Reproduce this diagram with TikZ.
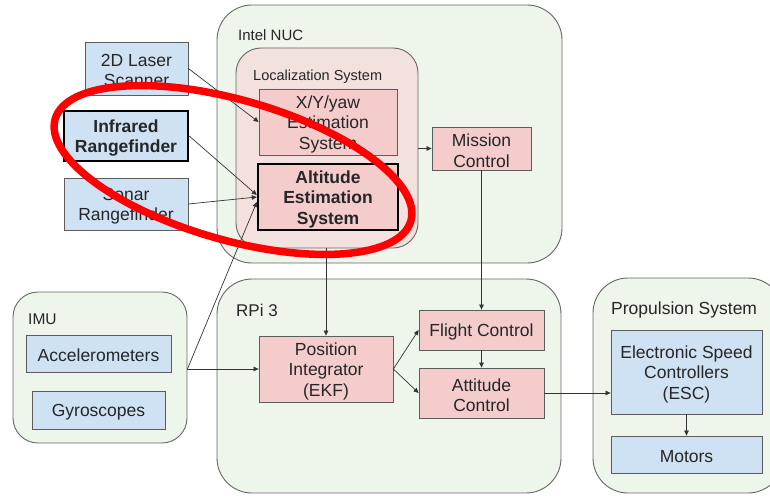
\documentclass[tikz,border=0pt]{standalone}
\usepackage{fontspec}
\setmainfont{Liberation Sans}
\usetikzlibrary{arrows.meta}

\definecolor{grpgreen}{HTML}{EEF5EA}
\definecolor{grploc}{HTML}{F2E1DD}
\definecolor{boxpink}{HTML}{F4CCCC}
\definecolor{boxblue}{HTML}{CFE2F3}
\definecolor{edgegray}{HTML}{666666}
\definecolor{linegray}{HTML}{333333}
\definecolor{hlred}{HTML}{FF0000}

\tikzset{
  group/.style={draw=edgegray, line width=0.9pt, fill=grpgreen, inner sep=0pt},
  grouplabel/.style={anchor=base west, inner sep=0pt, text=black!85},
  utext/.style={inner sep=0pt, align=center, text=black!85, yshift=-2pt,
    font=\fontsize{17.5}{20.5}\selectfont},
  btext/.style={utext, font=\bfseries\fontsize{17.5}{20.5}\selectfont},
  unit/.style={draw=edgegray!90!black, line width=0.8pt, inner sep=0pt},
  pinkunit/.style={unit, fill=boxpink, label={[utext]center:{#1}}},
  blueunit/.style={unit, fill=boxblue, label={[utext]center:{#1}}},
  pinkstrong/.style={unit, fill=boxpink, draw=black, line width=2.4pt, label={[btext]center:{#1}}},
  bluestrong/.style={unit, fill=boxblue, draw=black, line width=2.4pt, label={[btext]center:{#1}}},
  arr/.style={draw=linegray, line width=0.7pt, -{Triangle[length=5pt,width=4.5pt]}},
  hl/.style={draw=hlred, line width=7.5pt},
}

\begin{document}
\begin{tikzpicture}[x=1pt, y=-1pt]
\useasboundingbox (0,0) rectangle (770,495);

% processing groups
\node[group, rounded corners=35pt, minimum width=345pt, minimum height=258pt] (nuc) at (389.5,134) {};
\node[group, fill=grploc, rounded corners=25pt, minimum width=182pt, minimum height=200pt] (loc) at (327,148) {};
\node[group, rounded corners=35pt, minimum width=344pt, minimum height=214pt] (rpi) at (389,386) {};
\node[group, rounded corners=25pt, minimum width=174pt, minimum height=151pt] (imu) at (100,367.5) {};
\node[group, rounded corners=35pt, minimum width=190pt, minimum height=215pt] (prop) at (688,385.5) {};

\node[grouplabel, font=\fontsize{15}{18}\selectfont] (nuclbl) at (238,40.5) {Intel NUC};
\node[grouplabel, font=\fontsize{14.5}{17}\selectfont] (loclbl) at (253,80) {Localization System};
\node[grouplabel, font=\fontsize{17}{20}\selectfont] (rpilbl) at (236,316) {RPi 3};
\node[grouplabel, font=\fontsize{15.5}{18}\selectfont] (imulbl) at (28,324.5) {IMU};
\node[grouplabel, font=\fontsize{17.5}{20}\selectfont] (proplbl) at (611,314) {Propulsion System};

% sensors
\node[blueunit={2D Laser\\Scanner}, minimum width=103pt, minimum height=53pt] (laser) at (136.5,68.5) {};
\node[bluestrong={Infrared\\Rangefinder}, minimum width=124pt, minimum height=50pt] (infra) at (126,136) {};
\node[blueunit={Sonar\\Rangefinder}, minimum width=124pt, minimum height=52pt] (sonar) at (126,204) {};
\node[blueunit={Accelerometers}, minimum width=145pt, minimum height=37pt] (accel) at (98.5,353.5) {};
\node[blueunit={Gyroscopes}, minimum width=133pt, minimum height=38pt] (gyro) at (98.5,410) {};

% estimation and control blocks
\node[pinkunit={X/Y/yaw\\Estimation\\System}, minimum width=138pt, minimum height=66pt] (xy) at (328,122) {};
\node[pinkstrong={Altitude\\Estimation\\System}, minimum width=140pt, minimum height=66pt] (alt) at (328,197) {};
\node[pinkunit={Mission\\Control}, minimum width=99pt, minimum height=43pt] (mission) at (481.5,148.5) {};
\node[pinkunit={Position\\Integrator\\(EKF)}, minimum width=134pt, minimum height=66pt] (posint) at (326,369) {};
\node[pinkunit={Flight Control}, minimum width=125pt, minimum height=40pt] (flight) at (481.5,330) {};
\node[pinkunit={Attitude\\Control}, minimum width=125pt, minimum height=50pt] (att) at (481.5,393) {};

% actuators
\node[blueunit={Electronic Speed\\Controllers\\(ESC)}, minimum width=151pt, minimum height=84pt] (esc) at (686.5,372) {};
\node[blueunit={Motors}, minimum width=151pt, minimum height=37pt] (motors) at (686.5,454.5) {};

% data flow
\coordinate (imuout) at (imu.east |- posint.west);
\draw[arr] (laser.east) -- (xy.west);
\draw[arr] (infra.east) -- ([yshift=2pt]alt.west);
\draw[arr] (sonar.east) -- (alt.west);
\draw[arr] (imuout) -- ([yshift=-5pt]alt.west);
\draw[arr] (imuout) -- (posint.west);
\draw[arr] (posint.north |- loc.south) -- (posint.north);
\draw[arr] (loc.east |- mission.west) -- (mission.west);
\draw[arr] (mission.south) -- (flight.north);
\draw[arr] (posint.east) -- (flight.west);
\draw[arr] (posint.east) -- (att.west);
\draw[arr] (flight.south) -- (att.north);
\draw[arr] (att.east) -- (att.east -| esc.west);
\draw[arr] (esc.south) -- (motors.north);

% highlight around the altitude sensing path
\draw[hl, rotate around={-16:(233,170)}] (233,170) ellipse [x radius=185pt, y radius=70pt];
\end{tikzpicture}
\end{document}
